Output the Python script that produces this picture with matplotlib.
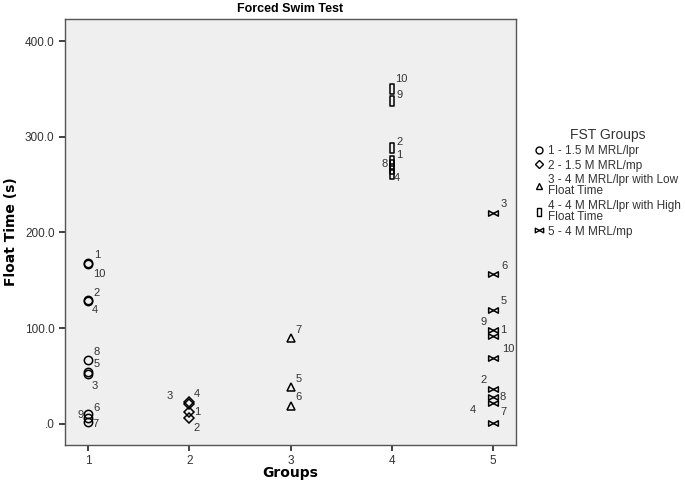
import matplotlib.pyplot as plt
from matplotlib.path import Path
from matplotlib.lines import Line2D

# dados (id do animal e tempo de flutuacao em s)
grupo1_ids = ["1", "10", "2", "4", "8", "5", "3", "6", "9", "7"]
grupo1_vals = [168, 167, 130, 128, 67, 54, 52, 10, 6, 2]

grupo2_ids = ["3", "4", "1", "2"]
grupo2_vals = [23, 21, 13, 6]

grupo3_ids = ["7", "5", "6"]
grupo3_vals = [90, 39, 19]

grupo4_ids = ["10", "9", "2", "1", "8", "3", "4"]
grupo4_vals = [350, 337, 288, 275, 271, 266, 261]

grupo5_ids = ["3", "6", "5", "9", "1", "10", "2", "8", "4", "7"]
grupo5_vals = [220, 157, 119, 98, 92, 69, 36, 28, 22, 1]

nomes_grupos = ["1 - 1.5 M MRL/lpr", "2 - 1.5 M MRL/mp",
                "3 - 4 M MRL/lpr with Low\nFloat Time",
                "4 - 4 M MRL/lpr with High\nFloat Time",
                "5 - 4 M MRL/mp"]
xticks = [1, 2, 3, 4, 5]
yticks = [0, 100, 200, 300, 400]
ytick_labels = [".0", "100.0", "200.0", "300.0", "400.0"]

# deslocamento dos rotulos (pixels) - so estilo
desloc1 = [(9, 8), (11, -10), (9, 7), (7, -9), (9, 8), (9, 8), (7, -12), (9, 6), (-7, 3), (7, -2)]
desloc2 = [(-20, 6), (8, 10), (8, 0), (7, -10)]
desloc3 = [(8, 8), (8, 8), (8, 9)]
desloc4 = [(10, 10), (8, 6), (8, 6), (7, 6), (-7, 1), (0, 0), (5, -4)]
desloc5 = [(11, 9), (11, 8), (11, 9), (-9, 8), (10, 6), (15, 9), (-9, 9), (10, 0), (-20, -7), (10, 11)]

retangulo = Path([(-0.45, -1), (0.45, -1), (0.45, 1), (-0.45, 1), (-0.45, -1)],
                 [Path.MOVETO, Path.LINETO, Path.LINETO, Path.LINETO, Path.CLOSEPOLY])
gravata = Path([(-1, 0.55), (1, -0.55), (1, 0.55), (-1, -0.55), (-1, 0.55)],
               [Path.MOVETO, Path.LINETO, Path.LINETO, Path.LINETO, Path.CLOSEPOLY])

marcadores = ["o", "D", "^", retangulo, gravata]
tamanhos = [6, 5, 6, 7, 7]

fig = plt.figure(figsize=(6.85, 4.9), dpi=100)
ax = fig.add_axes([0.0949, 0.0918, 0.6584, 0.8694])
ax.set_facecolor("#efefef")

cor_txt = "#333333"
grupos = [(grupo1_ids, grupo1_vals, desloc1), (grupo2_ids, grupo2_vals, desloc2),
          (grupo3_ids, grupo3_vals, desloc3), (grupo4_ids, grupo4_vals, desloc4),
          (grupo5_ids, grupo5_vals, desloc5)]

for g in range(len(grupos)):
    ids, vals, desloc = grupos[g]
    x = [xticks[g]] * len(vals)
    ax.plot(x, vals, linestyle="none", marker=marcadores[g], markersize=tamanhos[g],
            markerfacecolor="none", markeredgecolor="black", markeredgewidth=1.1)
    for i in range(len(ids)):
        if desloc[i] == (0, 0):
            continue
        ax.annotate(ids[i], (xticks[g], vals[i]), xytext=desloc[i], textcoords="offset pixels",
                    ha="center", va="center", fontsize=8, color=cor_txt,
                    family="Liberation Sans")

ax.set_xlim(0.773, 5.227)
ax.set_ylim(-22, 423)
ax.set_xticks(xticks)
ax.set_xticklabels([str(v) for v in xticks], family="Liberation Sans", fontsize=8.5, color=cor_txt)
ax.set_yticks(yticks)
ax.set_yticklabels(ytick_labels, family="Liberation Sans", fontsize=8.5, color=cor_txt)
ax.tick_params(direction="out", length=4, width=1.2, color="#222222")
for lado in ax.spines.values():
    lado.set_color("#555555")
    lado.set_linewidth(1.0)

ax.set_title("Forced Swim Test", fontsize=9, fontweight="bold", family="Liberation Sans", pad=5)
ax.set_xlabel("Groups", fontsize=10, fontweight="bold", labelpad=-1)
ax.set_ylabel("Float Time (s)", fontsize=10, fontweight="bold", labelpad=5)

handles = []
for g in range(5):
    handles.append(Line2D([], [], linestyle="none", marker=marcadores[g], markersize=tamanhos[g] - 1,
                          markerfacecolor="none", markeredgecolor="black", markeredgewidth=1.0))
leg = ax.legend(handles, nomes_grupos, title="FST Groups", loc="upper left",
                bbox_to_anchor=(0.772, 0.75), bbox_transform=fig.transFigure,
                frameon=False, handlelength=0.8, handletextpad=0.3, labelspacing=0.22,
                borderpad=0, prop={"family": "Liberation Sans", "size": 8.5})
leg.get_title().set_fontsize(10)
leg.get_title().set_family("Liberation Sans")
leg.get_title().set_color(cor_txt)
for t in leg.get_texts():
    t.set_color(cor_txt)
    t.set_linespacing(0.9)

plt.savefig("out.png", format="png")
plt.close()
